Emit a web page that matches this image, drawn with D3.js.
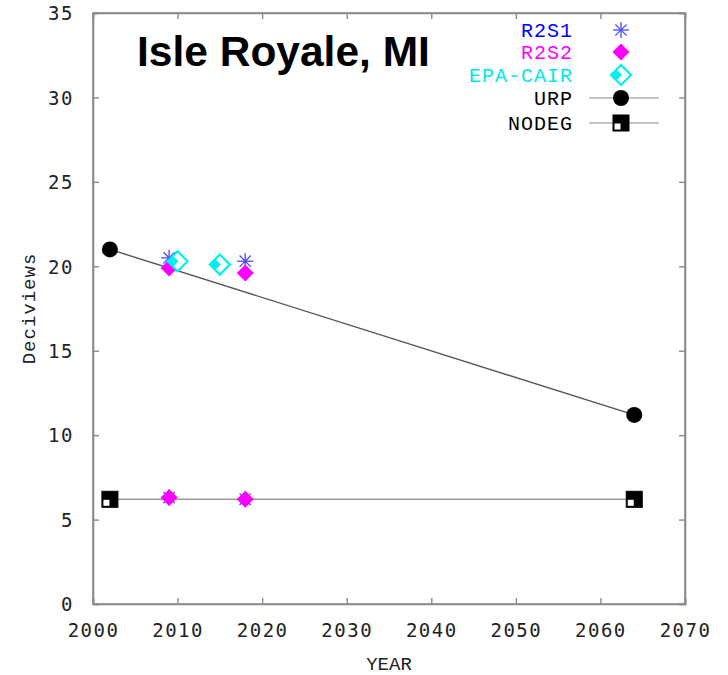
<!DOCTYPE html>
<html><head><meta charset="utf-8">
<script src="https://cdn.jsdelivr.net/npm/d3@7"></script>
<style>body{margin:0;background:#fff}svg{display:block}</style>
</head><body>
<svg id="c" width="728" height="675"></svg>
<script>
const title = "Isle Royale, MI";
const xTicks = [2000, 2010, 2020, 2030, 2040, 2050, 2060, 2070];
const yTicks = [0, 5, 10, 15, 20, 25, 30, 35];
const r2s1Years = [2009, 2018, 2009, 2018];
const r2s1Values = [20.5, 20.3, 6.3, 6.2];
const r2s2Years = [2009, 2018, 2009, 2018];
const r2s2Values = [19.9, 19.6, 6.3, 6.2];
const epaYears = [2010, 2015];
const epaValues = [20.3, 20.1];
const urpYears = [2002, 2064];
const urpValues = [21.0, 11.2];
const nodegYears = [2002, 2064];
const nodegValues = [6.2, 6.2];
const legendNames = ["R2S1", "R2S2", "EPA-CAIR", "URP", "NODEG"];

const svg = d3.select("#c");
const x = d3.scaleLinear().domain([2000, 2070]).range([93, 685]);
const y = d3.scaleLinear().domain([0, 35]).range([604, 13]);
const axisCol = "#8a8a8a";
const tickFont = "'DejaVu Sans Mono', monospace";
const labFont = "'Liberation Mono', 'Courier New', monospace";

// frame
svg.append("rect").attr("x", x(2000)).attr("y", y(35))
  .attr("width", x(2070) - x(2000)).attr("height", y(0) - y(35))
  .attr("fill", "none").attr("stroke", axisCol).attr("stroke-width", 1.6);

// axes (inner ticks)
const gB = svg.append("g").attr("transform", `translate(0,${y(0)})`)
  .call(d3.axisBottom(x).tickValues(xTicks).tickSize(-6).tickFormat(d3.format("d")).tickPadding(20));
const gT = svg.append("g").attr("transform", `translate(0,${y(35)})`)
  .call(d3.axisTop(x).tickValues(xTicks).tickSize(-6).tickFormat(""));
const gL = svg.append("g").attr("transform", `translate(${x(2000)},0)`)
  .call(d3.axisLeft(y).tickValues(yTicks).tickSize(-6).tickPadding(19));
const gR = svg.append("g").attr("transform", `translate(${x(2070)},0)`)
  .call(d3.axisRight(y).tickValues(yTicks).tickSize(-6).tickFormat(""));
[gB, gT, gL, gR].forEach(g => {
  g.select(".domain").attr("stroke", axisCol).attr("stroke-width", 1.6);
  g.selectAll(".tick line").attr("stroke", axisCol).attr("stroke-width", 1.4);
  g.selectAll("text").attr("font-family", tickFont).attr("font-size", 19)
    .attr("fill", "#222").attr("letter-spacing", 1.5);
});
gB.selectAll("text").attr("dy", "0.71em");
gL.selectAll("text").attr("dy", "0.36em");

// axis titles
svg.append("text").attr("x", x(2035)).attr("y", 670).attr("text-anchor", "middle")
  .attr("font-family", labFont).attr("font-size", 19).attr("fill", "#222").text("YEAR");
svg.append("text").attr("transform", `translate(35,${y(17.5)}) rotate(-90)`)
  .attr("text-anchor", "middle").attr("font-family", labFont).attr("font-size", 19)
  .attr("letter-spacing", 1).attr("fill", "#222").text("Deciviews");

// title
svg.append("text").attr("x", 137).attr("y", 66).attr("font-family", "Arial, 'Liberation Sans', sans-serif")
  .attr("font-weight", "bold").attr("font-size", 42.5).attr("fill", "#000").text(title);

// marker painters
function asterisk(g, cx, cy) {
  const r = 8;
  const a = g.append("g").attr("stroke", "#4a4aff").attr("stroke-width", 1.3);
  [0, 45, 90, 135].forEach(ang => {
    const t = ang * Math.PI / 180;
    a.append("line").attr("x1", cx - r * Math.cos(t)).attr("y1", cy - r * Math.sin(t))
      .attr("x2", cx + r * Math.cos(t)).attr("y2", cy + r * Math.sin(t));
  });
}
function diamondFill(g, cx, cy) {
  const r = 8.5;
  g.append("path").attr("d", `M${cx},${cy - r}L${cx + r},${cy}L${cx},${cy + r}L${cx - r},${cy}Z`)
    .attr("fill", "#ff00ff");
}
function epaMark(g, cx, cy) {
  const r = 10;
  g.append("path").attr("d", `M${cx},${cy - r}L${cx + r},${cy}L${cx},${cy + r}L${cx - r},${cy}Z`)
    .attr("fill", "#fff").attr("stroke", "#00f0f0").attr("stroke-width", 2.2);
  const s = 5;
  g.append("path").attr("d", `M${cx - 4},${cy - s}L${cx - 4 + s},${cy}L${cx - 4},${cy + s}L${cx - 4 - s},${cy}Z`)
    .attr("fill", "#00f0f0");
}
function circleMark(g, cx, cy) {
  g.append("circle").attr("cx", cx).attr("cy", cy).attr("r", 8).attr("fill", "#000");
}
function squareMark(g, cx, cy) {
  const h = 8;
  g.append("rect").attr("x", cx - h).attr("y", cy - h).attr("width", 2 * h).attr("height", 2 * h)
    .attr("fill", "#000").attr("stroke", "#000").attr("stroke-width", 1);
  g.append("rect").attr("x", cx - h + 1.5).attr("y", cy + 0.5).attr("width", h - 2).attr("height", h - 2)
    .attr("fill", "#fff");
}

// lines
const line = d3.line().x(d => x(d[0])).y(d => y(d[1]));
svg.append("path").datum(d3.zip(urpYears, urpValues)).attr("d", line)
  .attr("fill", "none").attr("stroke", "#555").attr("stroke-width", 1.4);
svg.append("path").datum(d3.zip(nodegYears, nodegValues)).attr("d", line)
  .attr("fill", "none").attr("stroke", "#999").attr("stroke-width", 1.4);

const gm = svg.append("g");
d3.zip(urpYears, urpValues).forEach(d => circleMark(gm, x(d[0]), y(d[1])));
d3.zip(nodegYears, nodegValues).forEach(d => squareMark(gm, x(d[0]), y(d[1])));
d3.zip(r2s1Years, r2s1Values).forEach(d => asterisk(gm, x(d[0]), y(d[1])));
d3.zip(r2s2Years, r2s2Values).forEach(d => diamondFill(gm, x(d[0]), y(d[1])));
d3.zip(epaYears, epaValues).forEach(d => epaMark(gm, x(d[0]), y(d[1])));

// legend
const legCols = ["#0000ff", "#ff00ff", "#00e8e8", "#000", "#000"];
const legY = [30, 52, 75, 98, 123];
const lg = svg.append("g");
legendNames.forEach((n, i) => {
  lg.append("text").attr("x", 573).attr("y", legY[i]).attr("dy", "0.35em")
    .attr("text-anchor", "end").attr("font-family", labFont).attr("font-size", 20)
    .attr("letter-spacing", 1).attr("fill", legCols[i]).text(n);
});
const mx = 621;
asterisk(lg, mx, legY[0]);
diamondFill(lg, mx, legY[1]);
epaMark(lg, mx, legY[2]);
lg.append("line").attr("x1", 589).attr("x2", 659).attr("y1", legY[3]).attr("y2", legY[3])
  .attr("stroke", "#888").attr("stroke-width", 1.2);
circleMark(lg, mx, legY[3]);
lg.append("line").attr("x1", 589).attr("x2", 659).attr("y1", legY[4]).attr("y2", legY[4])
  .attr("stroke", "#888").attr("stroke-width", 1.2);
squareMark(lg, mx, legY[4]);
</script>
</body></html>
